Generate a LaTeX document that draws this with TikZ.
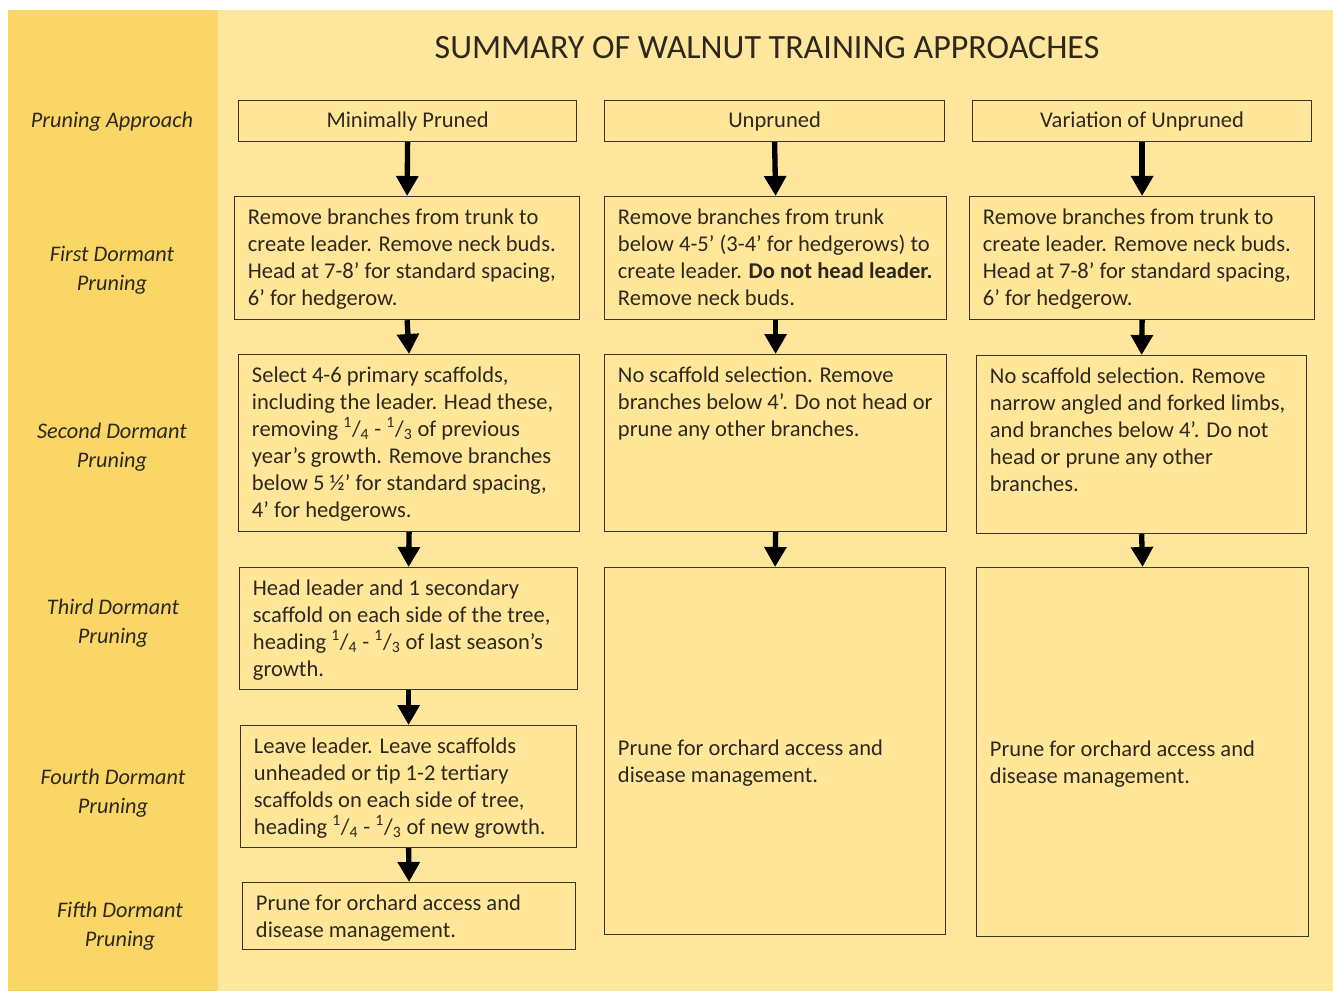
\documentclass[tikz,border=0pt]{standalone}
\usepackage{fontspec}
\setmainfont{Carlito}
\usetikzlibrary{arrows.meta}
\definecolor{stripc}{RGB}{250,214,102}
\definecolor{pagebg}{RGB}{254,231,157}
\definecolor{boxfill}{RGB}{255,230,153}
\definecolor{edgec}{RGB}{60,52,35}
\definecolor{inkc}{RGB}{45,40,30}
\newdimen\pxu \pxu=0.75pt
\newcommand{\frc}[2]{\textsuperscript{#1}/\textsubscript{#2}}
\newcommand{\stagetext}[4][t]{\parbox[c][\dimexpr #3\pxu-18pt\relax][#1]{\dimexpr #2\pxu-20pt\relax}{\raggedright #4}}

\begin{document}
\begin{tikzpicture}[x=0.75pt, y=-0.75pt,
  phase/.style={font=\itshape\fontsize{16.7}{21.5}\selectfont, align=center, text=inkc},
  head/.style={draw=edgec, fill=boxfill, line width=0.9pt, anchor=north west, minimum height=30.75pt, inner sep=0pt, text=inkc, font=\fontsize{16.9}{20.25}\selectfont},
  stage/.style={draw=edgec, fill=boxfill, line width=0.9pt, anchor=north west, inner xsep=10pt, inner ysep=9pt, text=inkc, font=\fontsize{16.9}{20.25}\selectfont},
  flow/.style={line width=4pt, -{Triangle[width=16pt,length=15pt]}}]
  \useasboundingbox (0,0) rectangle (1333,991);
  \fill[white] (0,0) rectangle (1333,991);
  \fill[pagebg] (218,10) rectangle (1333,991);
  \fill[stripc] (8,10) rectangle (218,991);

  \node[font=\fontsize{25.5}{30}\selectfont, text=inkc] (title) at (767,48) {SUMMARY OF WALNUT TRAINING APPROACHES};

  % row labels
  \node[phase] (lab0) at (112,122) {Pruning Approach};
  \node[phase] (lab1) at (112,270) {First Dormant\\Pruning};
  \node[phase] (lab2) at (112,447) {Second Dormant\\Pruning};
  \node[phase] (lab3) at (113,623) {Third Dormant\\Pruning};
  \node[phase] (lab4) at (113,793) {Fourth Dormant\\Pruning};
  \node[phase] (lab5) at (120,926) {Fifth Dormant\\Pruning};

  \node[head, minimum width=253.5pt] (min0) at (238,100) {\raisebox{-1pt}{Minimally Pruned}};
  \node[head, minimum width=255pt] (unp0) at (604,100) {\raisebox{-1pt}{Unpruned}};
  \node[head, minimum width=254.25pt] (var0) at (972,100) {\raisebox{-1pt}{Variation of Unpruned}};

  \node[stage] (min1) at (234,196) {\stagetext{345}{123}{Remove branches from trunk to\\ create leader.  Remove neck buds.\\ Head at 7-8’ for standard spacing,\\ 6’ for hedgerow.}};
  \node[stage] (unp1) at (604,196) {\stagetext{342}{123}{Remove branches from trunk\\ below 4-5’ (3-4’ for hedgerows) to\\ create leader.  \textbf{Do not head leader.}\\ Remove neck buds.}};
  \node[stage] (var1) at (969,196) {\stagetext{345}{123}{Remove branches from trunk to\\ create leader.  Remove neck buds.\\ Head at 7-8’ for standard spacing,\\ 6’ for hedgerow.}};

  \node[stage] (min2) at (238,354) {\stagetext{341}{177}{Select 4-6 primary scaffolds,\\ including the leader. Head these,\\ removing \frc{1}{4} - \frc{1}{3} of previous\\ year’s growth.  Remove branches\\ below 5 ½’ for standard spacing,\\ 4’ for hedgerows.}};
  \node[stage] (unp2) at (604,354) {\stagetext{342}{177}{No scaffold selection. Remove\\ branches below 4’.  Do not head or\\ prune any other branches.}};
  \node[stage] (var2) at (976,355) {\stagetext{330}{178}{No scaffold selection. Remove\\ narrow angled and forked limbs,\\ and branches below 4’. Do not\\ head or prune any other\\ branches.}};

  \node[stage] (min3) at (239,567) {\stagetext{338}{122}{Head leader and 1 secondary\\ scaffold on each side of the tree,\\ heading \frc{1}{4} - \frc{1}{3} of last season’s\\ growth.}};
  \node[stage] (unp3) at (604,567) {\stagetext[c]{341}{367}{\vspace{18pt}Prune for orchard access and\\ disease management.}};
  \node[stage] (var3) at (976,567) {\stagetext[c]{332}{369}{\vspace{18pt}Prune for orchard access and\\ disease management.}};

  \node[stage] (min4) at (240,725) {\stagetext{336}{122}{Leave leader. Leave scaffolds\\ unheaded or tip 1-2 tertiary\\ scaffolds on each side of tree,\\ heading \frc{1}{4} - \frc{1}{3} of new growth.}};
  \node[stage] (min5) at (242,882) {\stagetext{333}{67}{Prune for orchard access and\\ disease management.}};

  \foreach \a/\b in {min0/min1, min1/min2, min2/min3, min3/min4, min4/min5,
                     unp0/unp1, unp1/unp2, unp2/unp3, var0/var1, var1/var2, var2/var3}
    \draw[flow] (\a.south) -- (\b.north);
\end{tikzpicture}
\end{document}
